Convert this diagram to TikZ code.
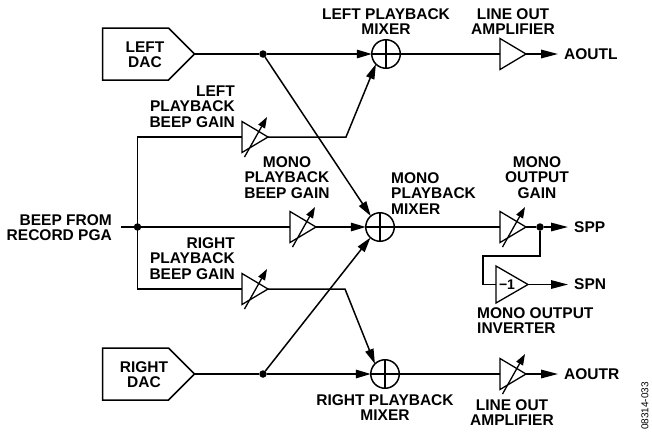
\documentclass[tikz,border=0pt]{standalone}
\usepackage{fontspec}
\setmainfont{Liberation Sans}
\usetikzlibrary{arrows.meta,shapes.geometric,shapes.symbols}
\tikzset{
  line/.style={line width=1.5pt},
  sig/.style={line, -{Triangle[length=15pt,width=8.5pt]}},
  sigout/.style={line, -{Triangle[length=17pt,width=8.5pt]}},
  dac/.style={draw, line width=1.5pt, signal, signal to=east, signal pointer angle=90, minimum width=92pt, minimum height=52pt, inner sep=0pt, outer sep=0pt, anchor=east},
  amp/.style={draw, line width=1.3pt, isosceles triangle, isosceles triangle stretches, shape border rotate=0, minimum height=26pt, minimum width=31pt, inner sep=0pt, outer sep=0pt, anchor=lower side},
  mix/.style={draw, circle, line width=1.5pt, minimum size=28.5pt, inner sep=0pt, outer sep=0pt},
  dot/.style={fill, circle, minimum size=7.5pt, inner sep=0pt, outer sep=0pt},
  gain/.style={line width=1.3pt, -{Triangle[length=11pt,width=7.5pt]}},
  lab/.style={font=\fontsize{15.5}{15.4}\selectfont\bfseries, align=center, inner sep=0pt},
  labr/.style={lab, align=right, anchor=east},
  labl/.style={lab, align=left, anchor=west}
}
\begin{document}
\begin{tikzpicture}[x=1pt,y=-1pt]
\useasboundingbox (0,0) rectangle (652,432);
% sources
\node[dac] (ldac) at (194.5,54) {};
\node[dac] (rdac) at (194.5,374) {};
\node[lab] (ldact) at (145,54.5) {LEFT\\DAC};
\node[lab] (rdact) at (144,374.5) {RIGHT\\DAC};
% mixers
\node[mix] (lmix) at (386,54) {};
\node[mix] (mmix) at (380,227) {};
\node[mix] (rmix) at (385,374) {};
\foreach \m in {lmix,mmix,rmix}{
  \draw[line width=1.2pt] (\m.north) -- (\m.south) (\m.west) -- (\m.east);
}
% amplifiers
\node[amp] (lgain) at (242,137) {};
\node[amp] (mgain) at (290,227) {};
\node[amp] (rgain) at (242,289) {};
\node[amp] (lout) at (500,54) {};
\node[amp] (mout) at (500,227) {};
\node[amp] (rout) at (500,374) {};
\node[amp,minimum height=32pt,minimum width=37pt] (inv) at (496,284.5) {};
\node[lab,font=\fontsize{14}{14}\selectfont\bfseries] (minus) at (507,285) {\textminus 1};
% junctions
\node[dot] (jl) at (263,54) {};
\node[dot] (jr) at (263,374) {};
\node[dot] (jb) at (137.5,227) {};
\node[dot] (jo) at (540,227) {};
% free ends and bends
\coordinate (bin) at (121,227);
\coordinate (bt) at (137.5,137);
\coordinate (bb) at (137.5,289);
\coordinate (bl) at (346,137);
\coordinate (br) at (345,289);
\coordinate (o1) at (540,256);
\coordinate (o2) at (483,256);
\coordinate (o3) at (483,284.5);
\coordinate (aol) at (558,54);
\coordinate (aor) at (558,374);
\coordinate (spp) at (568,227);
\coordinate (spn) at (568,284.5);
% connectors
\draw[line] (ldac.east) -- (jl);
\draw[sig] (jl) -- (lmix);
\draw[sig] (jl) -- (mmix.130);
\draw[line] (rdac.east) -- (jr);
\draw[sig] (jr) -- (rmix);
\draw[sig] (jr) -- (mmix.228);
\draw[line] (bin) -- (jb);
\draw[line] (lgain.lower side) -- (bt) -- (bb) -- (rgain.lower side);
\draw[line] (jb) -- (mgain.lower side);
\draw[sig] (lgain.apex) -- (bl) -- (lmix.225);
\draw[sig] (mgain.apex) -- (mmix);
\draw[sig] (rgain.apex) -- (br) -- (rmix.135);
\draw[line] (lmix.east) -- (lout.lower side);
\draw[line] (mmix.east) -- (mout.lower side);
\draw[line] (rmix.east) -- (rout.lower side);
\draw[sigout] (lout.apex) -- (aol);
\draw[sigout] (rout.apex) -- (aor);
\draw[line] (mout.apex) -- (jo);
\draw[sigout] (jo) -- (spp);
\draw[line] (jo) -- (o1) -- (o2) -- (o3) -- (inv.lower side);
\draw[sigout] (inv.apex) -- (spn);
% gain arrows
\foreach \a in {lgain,mgain,rgain,mout,rout}{
  \draw[gain] ([shift={(2.5,20)}]\a.lower side) -- ([shift={(25,-20)}]\a.lower side);
}
% labels
\node[lab] (t1) at (386,21.5) {LEFT PLAYBACK\\MIXER};
\node[lab] (t2) at (513,21.5) {LINE OUT\\AMPLIFIER};
\node[labr] (t3) at (235,106.5) {LEFT\\PLAYBACK\\BEEP GAIN};
\node[lab] (t4) at (287,177.5) {MONO\\PLAYBACK\\BEEP GAIN};
\node[labl] (t5) at (391,193.5) {MONO\\PLAYBACK\\MIXER};
\node[lab] (t6) at (537,177.5) {MONO\\OUTPUT\\GAIN};
\node[labr] (t7) at (112,227.5) {BEEP FROM\\RECORD PGA};
\node[labr] (t8) at (235,258.5) {RIGHT\\PLAYBACK\\BEEP GAIN};
\node[lab] (t9) at (385,407.5) {RIGHT PLAYBACK\\MIXER};
\node[lab] (t10) at (512,412.5) {LINE OUT\\AMPLIFIER};
\node[labl] (t11) at (477,320.5) {MONO OUTPUT\\INVERTER};
\node[labl] (aoutl) at (564,54) {AOUTL};
\node[labl] (aoutr) at (564,374) {AOUTR};
\node[labl] (sppt) at (574,227) {SPP};
\node[labl] (spnt) at (574,284.5) {SPN};
\node[rotate=90, inner sep=0pt, font=\fontsize{10}{10}\selectfont] (id) at (645,406) {08314-033};
\end{tikzpicture}
\end{document}
